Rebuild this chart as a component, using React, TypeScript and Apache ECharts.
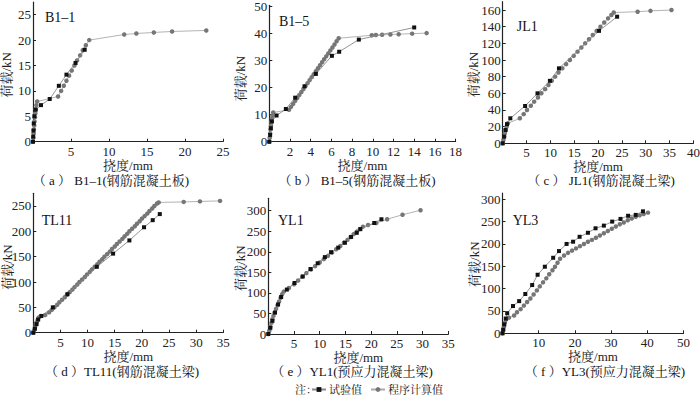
import React, { useEffect, useRef } from "react";
import * as echarts from "echarts";

const FONT = "'Liberation Serif', 'Times New Roman', 'Noto Serif CJK SC', 'Noto Sans CJK SC', serif";

// ---------- data (deflection mm, load kN) ----------
const expA = [[0,0],[0.03,1.0],[0.06,2.2],[0.1,3.6],[0.18,5.0],[0.35,6.3],[1.05,7.2],[2.2,8.4],[3.4,11.0],[4.4,13.2],[5.6,15.5],[6.8,18.1]];
const calcA = [[0,0],[0.04,0.8],[0.08,1.6],[0.12,2.4],[0.16,3.2],[0.2,4.0],[0.25,4.8],[0.3,5.6],[0.36,6.4],[0.44,7.2],[0.55,7.9],[3.3,8.9],[3.7,10.0],[4.05,11.0],[4.4,12.0],[4.75,13.0],[5.1,14.0],[5.45,15.0],[5.8,16.0],[6.2,17.0],[6.55,18.0],[6.95,19.0],[7.4,20.0],[12.0,21.1],[13.6,21.3],[15.9,21.5],[18.3,21.7],[22.8,21.9]];

const expB = [[0,0],[0.08,2.5],[0.15,5],[0.25,7.5],[0.7,9.7],[1.6,12.1],[2.5,16.3],[3.4,20.5],[4.5,25.1],[6.05,31.8],[6.75,33.3],[8.65,37.8],[14.0,42.3]];
const calcB = [[0,0],[0.04,1.5],[0.08,3],[0.12,4.5],[0.16,6],[0.2,7.3],[0.25,8.5],[0.3,9.6],[0.38,10.8],[1.9,11.8],[2.1,12.9],[2.3,14.0],[2.5,15.1],[2.7,16.2],[2.9,17.3],[3.1,18.4],[3.3,19.5],[3.5,20.6],[3.7,21.7],[3.9,22.8],[4.1,23.9],[4.3,25.0],[4.5,26.1],[4.7,27.2],[4.9,28.3],[5.1,29.4],[5.3,30.5],[5.5,31.6],[5.7,32.7],[5.9,33.8],[6.1,34.9],[6.3,36.0],[6.5,37.2],[6.7,38.3],[9.9,39.4],[10.3,39.5],[10.9,39.6],[11.7,39.7],[12.5,39.8],[13.8,40.0],[15.2,40.2]];

const expC = [[0,0],[0.3,8],[0.6,16],[0.9,23],[1.6,30],[4.7,44.8],[7.3,60],[9.9,75],[11.8,90],[20.2,135],[24.0,152]];
const calcC = [[0,0],[0.15,4],[0.3,8],[0.45,12],[0.6,16],[0.8,20],[1.1,24],[3.6,30],[4.4,35],[5.1,40],[5.9,45],[6.6,50],[7.4,55],[8.1,60],[8.9,65],[9.6,70],[10.3,75],[11.0,80],[11.7,85],[12.5,90],[13.3,95],[14.1,100],[14.9,105],[15.7,110],[16.5,115],[17.3,120],[18.1,125],[18.9,130],[19.7,135],[20.5,140],[21.3,145],[22.1,150],[22.8,154],[23.3,157],[28.3,158],[31.0,159],[35.4,160]];

const expD = [[0,0],[0.3,8],[0.6,17],[0.9,26],[1.5,33],[3.6,50],[6.3,76],[11.7,130],[14.7,156],[17.7,182],[20.4,208],[22.0,222],[23.3,234]];
const calcD = [[0,0],[0.15,5],[0.3,10],[0.45,15],[0.6,20],[0.8,25],[1.0,30],[1.4,33],[2.2,35],[2.9,40],[3.4,45],[3.9,50],[4.4,55],[4.8,60],[5.3,65],[5.8,70],[6.2,75],[6.7,80],[7.2,85],[7.6,90],[8.1,95],[8.5,100],[9.0,105],[9.5,110],[9.9,115],[10.4,120],[10.8,125],[11.3,130],[11.8,135],[12.2,140],[12.7,145],[13.1,150],[13.6,155],[14.1,160],[14.5,165],[15.0,170],[15.4,175],[15.9,180],[16.4,185],[16.8,190],[17.3,195],[17.7,200],[18.2,205],[18.7,210],[19.1,215],[19.6,220],[20.0,225],[20.5,230],[21.0,235],[21.4,240],[21.9,245],[22.3,250],[22.8,255],[23.1,257],[27.7,258],[30.7,259],[34.4,260]];

const expE = [[0,0],[0.4,15],[0.8,32],[1.3,52],[1.9,72],[2.5,90],[3.6,108],[5.1,124],[6.7,140],[8.2,158],[9.6,172],[11.0,187],[12.2,199],[13.6,210],[14.9,222],[16.1,236],[17.2,246],[17.9,255],[20.6,270],[22.0,279]];
const calcE = [[0,0],[0.2,8],[0.4,18],[0.6,27],[0.8,36],[1.0,44],[1.2,52],[1.5,61],[1.8,70],[2.1,79],[2.4,88],[2.7,97],[3.0,103],[4.0,112],[5.0,121],[5.8,130],[6.6,139],[7.4,148],[8.3,157],[9.1,165],[10.0,174],[10.8,182],[11.6,190],[12.4,198],[13.2,206],[14.0,214],[14.7,222],[15.4,229],[16.0,236],[16.6,243],[17.2,249],[17.8,255],[18.4,261],[19.4,265],[21.0,270],[23.1,279],[26.1,290],[29.6,301]];

const expF = [[0,0],[0.2,8],[0.5,20],[0.9,33],[1.3,45],[2.9,61],[4.6,72],[6.3,88],[8.2,108],[9.7,131],[11.7,149],[14.0,169],[15.6,184],[17.7,200],[19.5,205],[21.3,216],[23.6,225],[25.7,235],[28.0,241],[30.3,250],[32.6,256],[34.7,263],[36.8,265],[38.8,273]];
const calcF = [[0,0],[0.2,8],[0.4,15],[0.65,24],[1.0,31],[1.8,35],[3.2,40],[4.0,47],[5.0,54],[5.9,62],[6.8,70],[7.7,78],[8.6,87],[9.5,96],[10.3,105],[11.2,114],[12.1,123],[12.9,132],[13.8,141],[14.5,149],[15.2,158],[15.9,167],[17.0,174],[18.1,180],[19.2,185],[20.3,190],[21.4,195],[22.5,200],[23.6,205],[24.7,209],[25.8,214],[26.9,219],[28.0,224],[29.1,229],[30.2,234],[31.3,239],[32.4,244],[33.5,248],[34.6,253],[35.7,257],[36.8,261],[37.9,264],[39.0,267],[40.2,270]];

// ---------- labels ----------
const specimenNames = ["B1–1", "B1–5", "JL1", "TL11", "YL1", "YL3"];
const captions = [
  "（ a ） B1–1(钢筋混凝土板)",
  "（ b ） B1–5(钢筋混凝土板)",
  "（ c ） JL1(钢筋混凝土梁)",
  "（ d ）TL11(钢筋混凝土梁)",
  "（ e ）YL1(预应力混凝土梁)",
  "（ f ）YL3(预应力混凝土梁)",
];
const xMaxes = [25, 18, 40, 35, 35, 50];
const xSteps = [5, 2, 5, 5, 5, 10];
const yTickValues = [
  [0, 5, 10, 15, 20, 25],
  [0, 10, 20, 30, 40, 50],
  [0, 20, 40, 60, 80, 100, 120, 140, 160],
  [0, 50, 100, 150, 200, 250],
  [0, 50, 100, 150, 200, 250, 300],
  [0, 50, 100, 150, 200, 250, 300],
];
const yMaxes = [27.5, 50.5, 170, 275, 330, 314];
const seriesExp = [expA, expB, expC, expD, expE, expF];
const seriesCalc = [calcA, calcB, calcC, calcD, calcE, calcF];
const legendNames = ["试验值", "程序计算值"];
const xName = "挠度/mm";
const yName = "荷载/kN";

// ---------- layout ----------
const grids = [
  { left: 33, top: 2, width: 190, height: 139.7 },
  { left: 269.3, top: 5.3, width: 186.3, height: 136.4 },
  { left: 502.7, top: 1.7, width: 190.7, height: 141.6 },
  { left: 33.3, top: 193.3, width: 190, height: 139.4 },
  { left: 268.3, top: 198.3, width: 180, height: 135.7 },
  { left: 502.5, top: 193, width: 181, height: 140.3 },
];
const yNameGaps = [19.8, 22.8, 22.9, 19.3, 21.8, 21.2];
const yNameShift = [6, 10, 4, 8, 4, 2];
const labelPos = [
  [45, 17], [279, 21.7], [516.7, 26.7], [41.7, 220.7], [278, 220.7], [512.7, 220.7],
];
const captionPos = [
  [111, 180.5], [357, 180.5], [601, 180.5], [122, 371.5], [352, 371.5], [605, 371.5],
];

const AXIS_COLOR = "#222";

export default function App() {
  const ref = useRef<HTMLDivElement>(null);
  useEffect(() => {
    if (!ref.current) return;
    const chart = echarts.init(ref.current, undefined, { renderer: "svg" });
    const xAxis: any[] = [];
    const yAxis: any[] = [];
    const series: any[] = [];
    const graphic: any[] = [];
    grids.forEach((g, i) => {
      xAxis.push({
        type: "value",
        gridIndex: i,
        min: 0,
        max: xMaxes[i],
        interval: xSteps[i],
        name: xName,
        nameLocation: "middle",
        nameGap: 14,
        nameTextStyle: { fontFamily: FONT, fontSize: 13, color: AXIS_COLOR },
        axisLine: { lineStyle: { color: AXIS_COLOR, width: 1.2 } },
        axisTick: { inside: true, length: 3, lineStyle: { color: AXIS_COLOR } },
        axisLabel: { showMinLabel: false, margin: 3, fontFamily: FONT, fontSize: 13, color: AXIS_COLOR },
        splitLine: { show: false },
      });
      yAxis.push({
        type: "value",
        gridIndex: i,
        min: 0,
        max: yMaxes[i],
        name: yName,
        nameLocation: "middle",
        nameRotate: 90,
        nameGap: yNameGaps[i],
        nameMoveOverlap: false,
        nameTextStyle: { fontFamily: FONT, fontSize: 13, color: AXIS_COLOR, padding: [0, yNameShift[i], 0, 0] },
        axisLine: { show: true, lineStyle: { color: AXIS_COLOR, width: 1.2 } },
        axisTick: { show: true, inside: true, length: 3, customValues: yTickValues[i], lineStyle: { color: AXIS_COLOR } },
        axisLabel: { customValues: yTickValues[i], margin: 2, fontFamily: FONT, fontSize: 13, color: AXIS_COLOR },
        splitLine: { show: false },
      });
      series.push({
        type: "line",
        name: legendNames[1],
        xAxisIndex: i,
        yAxisIndex: i,
        data: seriesCalc[i],
        symbol: "circle",
        symbolSize: 4.5,
        showAllSymbol: true,
        itemStyle: { color: "#767676" },
        lineStyle: { color: "#aaaaaa", width: 0.9 },
        z: 2,
      });
      series.push({
        type: "line",
        name: legendNames[0],
        xAxisIndex: i,
        yAxisIndex: i,
        data: seriesExp[i],
        symbol: "rect",
        symbolSize: 4,
        showAllSymbol: true,
        itemStyle: { color: "#111" },
        lineStyle: { color: "#888", width: 0.9 },
        z: 3,
      });
      graphic.push({
        type: "text",
        x: labelPos[i][0],
        y: labelPos[i][1],
        style: { text: specimenNames[i], font: `14px ${FONT}`, fill: "#111", textAlign: "left", textVerticalAlign: "middle" },
      });
      graphic.push({
        type: "text",
        x: captionPos[i][0],
        y: captionPos[i][1],
        style: { text: captions[i], font: `13px ${FONT}`, fill: "#111", textAlign: "center", textVerticalAlign: "middle" },
      });
    });
    graphic.push({
      type: "text",
      x: 295,
      y: 390,
      style: { text: "注：", font: `11px ${FONT}`, fill: "#111", textAlign: "left", textVerticalAlign: "middle" },
    });
    chart.setOption({
      animation: false,
      backgroundColor: "#fff",
      grid: grids.map((g) => ({ ...g, outerBoundsMode: "none", containLabel: false })),
      xAxis,
      yAxis,
      series,
      legend: {
        data: legendNames,
        left: 311,
        top: 384,
        padding: 0,
        itemWidth: 14,
        itemHeight: 6,
        itemGap: 8,
        textStyle: { fontFamily: FONT, fontSize: 11, color: "#111", padding: [0, 0, 0, -2] },
      },
      graphic,
    });
    return () => chart.dispose();
  }, []);
  return <div ref={ref} style={{ position: "absolute", left: 0, top: 0, width: 700, height: 396 }} />;
}
